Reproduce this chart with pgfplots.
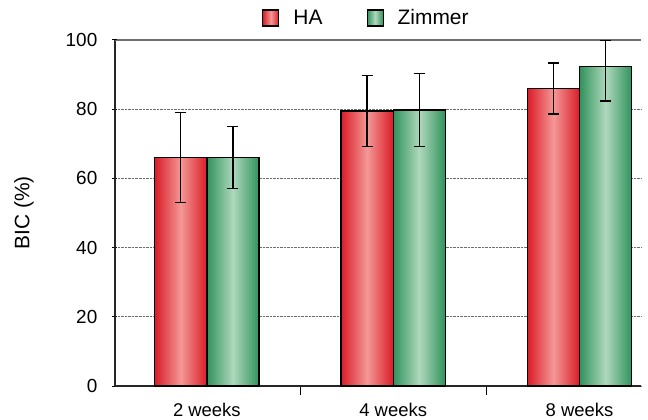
\documentclass[border=0pt]{standalone}
\usepackage{pgfplots}
\pgfplotsset{compat=1.18}
\usepackage{fontspec}
\setmainfont{Liberation Sans}

\definecolor{redEdge}{RGB}{218,28,40}
\definecolor{redMid}{RGB}{244,152,150}
\definecolor{grnEdge}{RGB}{48,146,92}
\definecolor{grnMid}{RGB}{174,216,188}
\definecolor{gridgray}{RGB}{110,110,110}

\pgfplotsset{
    habar/.style={draw=black, line width=1.3pt, bar shift=-0.14,
        left color=redEdge, right color=redEdge, middle color=redMid,
        error bars/y dir=both, error bars/y explicit},
    zimbar/.style={draw=black, line width=1.3pt, bar shift=0.14,
        left color=grnEdge, right color=grnEdge, middle color=grnMid,
        error bars/y dir=both, error bars/y explicit},
}

\begin{document}
\begin{tikzpicture}
\begin{axis}[
    scale only axis,
    width=526bp, height=346bp,
    font=\fontsize{19}{22}\selectfont,
    /pgf/number format/assume math mode=true,
    ymin=0, ymax=100,
    xmin=-0.493, xmax=2.33,
    ytick={0,20,40,60,80},
    extra y ticks={100},
    extra y tick style={grid style={solid, gridgray, line width=1.2pt}},
    ymajorgrids,
    grid style={densely dotted, gridgray, line width=0.9pt},
    xtick={0,1,2},
    xticklabels={2 weeks, 4 weeks, 8 weeks},
    major x tick style={draw=none},
    minor xtick={0.5,1.5},
    minor x tick style={black, line width=1pt},
    minor tick length=9bp,
    major tick length=5bp,
    ytick style={black, line width=1pt},
    tick align=inside,
    axis x line=bottom, axis y line=left,
    axis line style={-, black!85, line width=1.3pt},
    xticklabel style={inner sep=0pt, anchor=north, yshift=-12bp, font=\fontsize{18.5}{20}\selectfont},
    yticklabel style={inner sep=0pt, anchor=east, xshift=-15bp},
    ylabel={BIC (\%)},
    every axis y label/.style={at={(axis description cs:-0.173,0.5)}, rotate=90, anchor=center,
        font=\fontsize{21}{24}\selectfont},
    ybar=0pt,
    bar width=0.28,
    legend columns=-1,
    legend style={draw=none, fill=none, at={(axis description cs:0.478,1.0636)}, anchor=center,
        font=\fontsize{21}{24}\selectfont,
        /tikz/every odd column/.append style={column sep=12bp},
        /tikz/every even column/.append style={column sep=42bp}},
    legend image code/.code={\draw[#1, line width=1.2pt] (0bp,-8bp) rectangle (16bp,8bp);},
    error bars/error bar style={black, line width=1.4pt},
    error bars/error mark options={rotate=90, mark size=5.5bp, line width=1.4pt, black},
]
% 2 weeks
\addplot[habar] coordinates {(0,66.0) +- (0,13.0)};
\addplot[zimbar] coordinates {(0,66.0) +- (0,9.0)};
% 4 weeks
\addplot[forget plot, habar] coordinates {(1,79.5) +- (0,10.2)};
\addplot[forget plot, zimbar] coordinates {(1,79.8) +- (0,10.5)};
% 8 weeks
\addplot[forget plot, habar] coordinates {(2,86.0) +- (0,7.4)};
\addplot[forget plot, zimbar] coordinates {(2,92.3) += (0,7.5) -= (0,9.9)};
\legend{HA, Zimmer}
\end{axis}
\pgfresetboundingbox
\path[use as bounding box] ([shift={(-115bp,-34bp)}]current axis.south west) rectangle ([shift={(7bp,40bp)}]current axis.north east);
\end{tikzpicture}
\end{document}
